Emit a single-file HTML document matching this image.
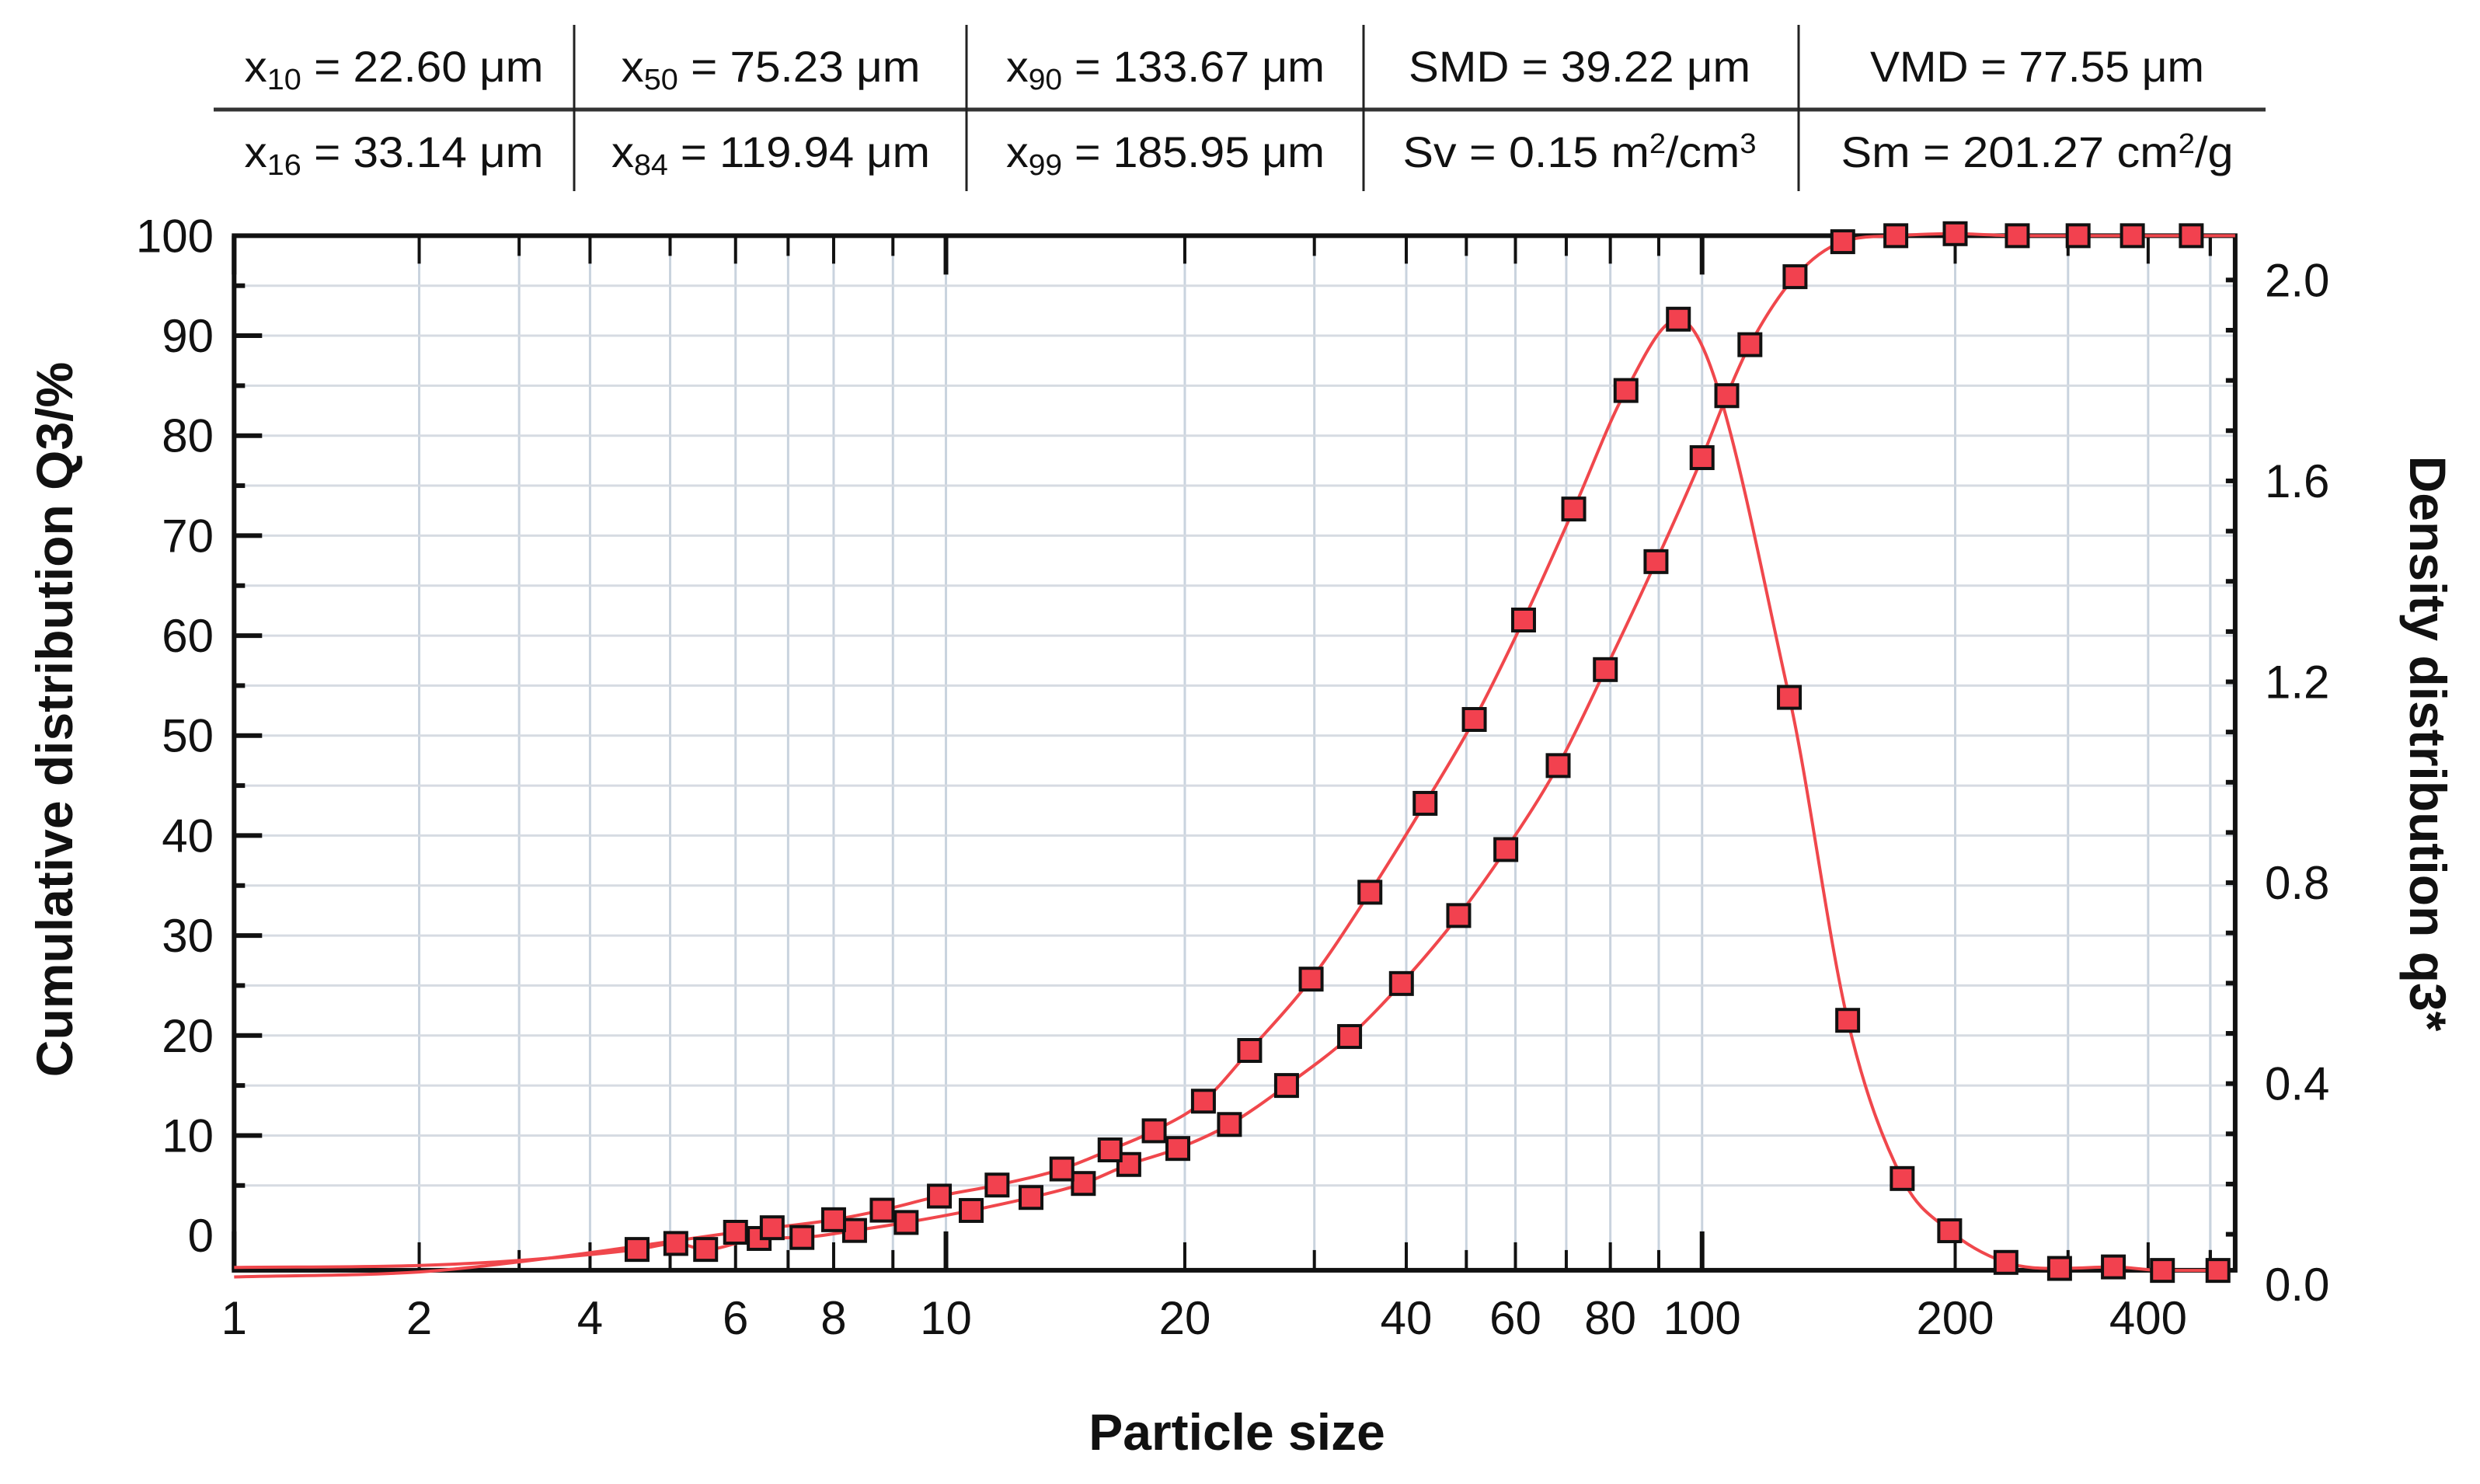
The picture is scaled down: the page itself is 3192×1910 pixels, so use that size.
<!DOCTYPE html>
<html><head><meta charset="utf-8">
<style>
html,body{margin:0;padding:0;background:#fff;}
svg{display:block;}
text{font-family:"Liberation Sans",sans-serif;fill:#111;}
.tab{font-size:56px;}
.tick{font-size:60px;}
.ttl{font-size:66px;font-weight:bold;}
</style></head>
<body>
<svg id="chart" width="3192" height="1910" viewBox="0 0 3192 1910" xmlns="http://www.w3.org/2000/svg">
<rect width="3192" height="1910" fill="#fff"/>
<g id="table">
  <line x1="275" y1="141" x2="2916" y2="141" stroke="#333" stroke-width="5"/>
  <line x1="739" y1="32" x2="739" y2="246" stroke="#222" stroke-width="3"/>
  <line x1="1244" y1="32" x2="1244" y2="246" stroke="#222" stroke-width="3"/>
  <line x1="1755" y1="32" x2="1755" y2="246" stroke="#222" stroke-width="3"/>
  <line x1="2315" y1="32" x2="2315" y2="246" stroke="#222" stroke-width="3"/>
  <g class="tab" text-anchor="middle">
    <text x="507" y="105" textLength="385" lengthAdjust="spacingAndGlyphs">x<tspan font-size="38" dy="10">10</tspan><tspan dy="-10"> = 22.60 μm</tspan></text>
    <text x="992" y="105" textLength="385" lengthAdjust="spacingAndGlyphs">x<tspan font-size="38" dy="10">50</tspan><tspan dy="-10"> = 75.23 μm</tspan></text>
    <text x="1500" y="105" textLength="410" lengthAdjust="spacingAndGlyphs">x<tspan font-size="38" dy="10">90</tspan><tspan dy="-10"> = 133.67 μm</tspan></text>
    <text x="2033" y="105" textLength="440" lengthAdjust="spacingAndGlyphs">SMD = 39.22 μm</text>
    <text x="2622" y="105" textLength="430" lengthAdjust="spacingAndGlyphs">VMD = 77.55 μm</text>
    <text x="507" y="215" textLength="385" lengthAdjust="spacingAndGlyphs">x<tspan font-size="38" dy="10">16</tspan><tspan dy="-10"> = 33.14 μm</tspan></text>
    <text x="992" y="215" textLength="410" lengthAdjust="spacingAndGlyphs">x<tspan font-size="38" dy="10">84</tspan><tspan dy="-10"> = 119.94 μm</tspan></text>
    <text x="1500" y="215" textLength="410" lengthAdjust="spacingAndGlyphs">x<tspan font-size="38" dy="10">99</tspan><tspan dy="-10"> = 185.95 μm</tspan></text>
    <text x="2033" y="215" textLength="455" lengthAdjust="spacingAndGlyphs">Sv = 0.15 m<tspan font-size="36" dy="-18">2</tspan><tspan dy="18">/cm</tspan><tspan font-size="36" dy="-18">3</tspan></text>
    <text x="2622" y="215" textLength="505" lengthAdjust="spacingAndGlyphs">Sm = 201.27 cm<tspan font-size="36" dy="-18">2</tspan><tspan dy="18">/g</tspan></text>
  </g>
</g>
<g id="grid"></g>
<g id="axes"></g>
<g id="series"></g>
<text class="ttl" text-anchor="middle" transform="translate(93,926) rotate(-90)">Cumulative distribution Q3/%</text>
<text class="ttl" text-anchor="middle" transform="translate(3102,957) rotate(90)">Density distribution q3*</text>
<text class="ttl" text-anchor="middle" x="1592" y="1866">Particle size</text>
</svg>
<script>
// ---- data ----
const xTickLabels = [1, 2, 4, 6, 8, 10, 20, 40, 60, 80, 100, 200, 400];
const leftTickLabels = [0, 10, 20, 30, 40, 50, 60, 70, 80, 90, 100];
const rightTickLabels = ["0.0", "0.4", "0.8", "1.2", "1.6", "2.0"];
const cumSizes = [4.56, 5.08, 5.52, 6.43, 7.29, 8.34, 9.24, 10.76, 12.8, 14.9, 17.0, 19.6, 23.0, 27.5, 33.5, 39.4, 48.6, 57.9, 68.3, 78.8, 89.4, 100, 107, 114, 129, 147, 170, 200, 250, 311, 378, 467];
const cumValues = [-1.4, -0.8, -1.4, -0.3, -0.2, 0.5, 1.3, 2.5, 3.8, 5.2, 7.1, 8.7, 11.1, 15.0, 19.9, 25.2, 32.0, 38.6, 47.0, 56.6, 67.4, 77.8, 84.0, 89.1, 95.9, 99.4, 100, 100.2, 100, 100, 100, 100];
const denSizes = [6.0, 6.68, 8.0, 8.81, 9.87, 11.6, 14.0, 16.1, 18.3, 21.2, 24.5, 29.7, 35.7, 42.9, 51.5, 61.5, 71.6, 83.1, 94.4, 127, 149, 173, 197, 240, 291, 353, 421, 514];
const denValues = [0.104, 0.113, 0.129, 0.148, 0.176, 0.198, 0.230, 0.268, 0.306, 0.365, 0.466, 0.608, 0.781, 0.958, 1.125, 1.323, 1.544, 1.780, 1.922, 1.169, 0.526, 0.211, 0.107, 0.044, 0.032, 0.035, 0.028, 0.028];
const cumTailSizes = [1, 2, 3];
const cumTailValues = [-3.2, -3.0, -2.5];
const denTailSizes = [1, 2, 3, 4.5];
const denTailValues = [0.015, 0.025, 0.045, 0.075];

// ---- scales ----
const S = 2.036;
const knotV = [1, 2, 4, 6, 8, 10, 20, 40, 60, 80, 100, 200, 400];
const knotP = [148, 265, 373, 465, 527, 598, 749, 889, 958, 1018, 1076, 1236, 1358];
function X(v) {
  const l = Math.log(v);
  let i = 0;
  while (i < knotV.length - 2 && l > Math.log(knotV[i + 1])) i++;
  const a = Math.log(knotV[i]), b = Math.log(knotV[i + 1]);
  return (knotP[i] + (l - a) / (b - a) * (knotP[i + 1] - knotP[i])) * S;
}
function YL(v) { return (781 - 6.32 * v) * S; }
function YR(q) { return (812 - q * 317.5) * S; }
const L = 148 * S, R = 1413 * S, T = 149 * S, B = 803 * S;
const NS = "http://www.w3.org/2000/svg";
function mk(tag, attrs, parent) {
  const e = document.createElementNS(NS, tag);
  for (const k in attrs) e.setAttribute(k, attrs[k]);
  parent.appendChild(e);
  return e;
}
const grid = document.getElementById('grid');
const axes = document.getElementById('axes');
const series = document.getElementById('series');

const gridVals = [];
for (let d = 1; d <= 100; d *= 10) for (let m = 1; m <= 9; m++) gridVals.push(m * d);
gridVals.push(500);
gridVals.forEach(v => {
  if (v < 1 || v > 540) return;
  const x = X(v);
  const g = mk('line', {x1: x, y1: T, x2: x, y2: B, stroke: '#c9d3de', 'stroke-width': 3}, grid);
  
  
  const major = (v === 1 || v === 10 || v === 100);
  const len = major ? 50 : (xTickLabels.includes(v) ? 36 : 26);
  const t1 = mk('line', {x1: x, y1: T, x2: x, y2: T + len, stroke: '#111', 'stroke-width': major ? 6 : 4}, axes);
  
  
  const t2 = mk('line', {x1: x, y1: B, x2: x, y2: B - len, stroke: '#111', 'stroke-width': major ? 6 : 4}, axes);
  
  
});
for (let v = 5; v < 100; v += 5) {
  const y = YL(v);
  const g = mk('line', {x1: L, y1: y, x2: R, y2: y, stroke: '#d6dbe2', 'stroke-width': 3}, grid);
  
  
  const t = mk('line', {x1: L, y1: y, x2: L + (v % 10 === 0 ? 36 : 14), y2: y, stroke: '#111', 'stroke-width': 6}, axes);
  
  
}
for (let q = 0.1; q < 2.05; q += 0.1) {
  const y = YR(q);
  const t = mk('line', {x1: R, y1: y, x2: R - 12, y2: y, stroke: '#111', 'stroke-width': 6}, axes);
  
  
}
const fr = mk('rect', {x: L, y: T, width: R - L, height: B - T, fill: 'none', stroke: '#111', 'stroke-width': 6}, axes);



xTickLabels.forEach(v => {
  const t = mk('text', {x: X(v), y: B + 82, 'text-anchor': 'middle', class: 'tick'}, axes);
  t.textContent = v;
  
  
});
leftTickLabels.forEach(v => {
  const t = mk('text', {x: 275, y: YL(v) + 21, 'text-anchor': 'end', class: 'tick'}, axes);
  t.textContent = v;
  
  
});
rightTickLabels.forEach(s => {
  const t = mk('text', {x: 2915, y: YR(parseFloat(s)) + 21, 'text-anchor': 'start', class: 'tick'}, axes);
  t.textContent = s;
  
  
});

// monotone cubic (Fritsch-Carlson) path
function path(pts) {
  const n = pts.length, dx = [], sl = [], m = [];
  for (let i = 0; i < n - 1; i++) { dx[i] = pts[i + 1][0] - pts[i][0]; sl[i] = (pts[i + 1][1] - pts[i][1]) / dx[i]; }
  m[0] = sl[0]; m[n - 1] = sl[n - 2];
  for (let i = 1; i < n - 1; i++) m[i] = (sl[i - 1] * sl[i] <= 0) ? 0 : (sl[i - 1] + sl[i]) / 2;
  for (let i = 0; i < n - 1; i++) {
    if (sl[i] === 0) { m[i] = 0; m[i + 1] = 0; continue; }
    const a = m[i] / sl[i], b = m[i + 1] / sl[i], h = a * a + b * b;
    if (h > 9) { const t = 3 / Math.sqrt(h); m[i] = t * a * sl[i]; m[i + 1] = t * b * sl[i]; }
  }
  let d = 'M' + pts[0][0] + ',' + pts[0][1];
  for (let i = 0; i < n - 1; i++) {
    const h = dx[i] / 3;
    d += 'C' + (pts[i][0] + h) + ',' + (pts[i][1] + m[i] * h) + ' ' + (pts[i + 1][0] - h) + ',' + (pts[i + 1][1] - m[i + 1] * h) + ' ' + pts[i + 1][0] + ',' + pts[i + 1][1];
  }
  return d;
}
const cumPts = cumTailSizes.map((s, i) => [X(s), YL(cumTailValues[i])]).concat(cumSizes.map((s, i) => [X(s), YL(cumValues[i])]));
cumPts.push([R, YL(cumValues[cumValues.length - 1])]);
const denPts = denTailSizes.map((s, i) => [X(s), YR(denTailValues[i])]).concat(denSizes.map((s, i) => [X(s), YR(denValues[i])]));
const cl = mk('path', {d: path(cumPts), fill: 'none', stroke: '#f0474c', 'stroke-width': 4}, series);


const dl = mk('path', {d: path(denPts), fill: 'none', stroke: '#f0474c', 'stroke-width': 4}, series);


function marker(x, y, name) {
  const r = mk('rect', {x: x - 14, y: y - 14, width: 28, height: 28, fill: '#f2414f', stroke: '#111', 'stroke-width': 4}, series);
  
  
}
cumSizes.forEach((s, i) => marker(X(s), YL(cumValues[i]), 'cumulative-point'));
denSizes.forEach((s, i) => marker(X(s), YR(denValues[i]), 'density-point'));
</script>
</body></html>
